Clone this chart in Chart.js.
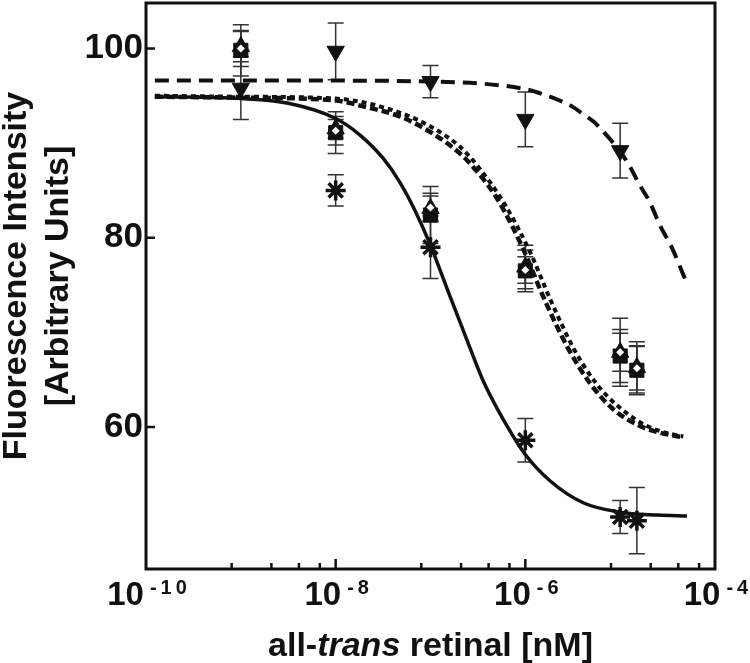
<!DOCTYPE html>
<html lang="en">
<head>
<meta charset="UTF-8">
<title>Fluorescence vs all-trans retinal</title>
<script src="https://cdn.jsdelivr.net/npm/chart.js@4.4.0/dist/chart.umd.min.js"></script>
<style>
  html, body { margin: 0; padding: 0; background: #fff; }
  #wrap { width: 750px; height: 663px; }
</style>
</head>
<body>
<div id="wrap"><canvas id="chart" width="750" height="663"></canvas></div>
<script>
  // concentrations of the measured points
  const conc = [1e-9, 1e-8, 1e-7, 1e-6, 1e-5, 1.5e-5];

  // measured points: mean and error
  const starVals   = [null, 85.0, 79.0, 58.6, 50.5, 50.1];
  const starErr    = [null, 1.65, 3.3, 2.3, 1.75, 3.5];
  const downVals   = [95.8, 99.7, 96.5, 92.5, 89.2, null];
  const downErr    = [3.3, 3.0, 1.7, 2.9, 2.9, null];
  const squareVals = [99.8, 91.1, 82.4, 76.5, 67.5, 66.0];
  const squareErr  = [2.7, 2.2, 3.0, 2.2, 2.8, 2.6];
  const upVals     = [100.2, 91.5, 83.1, 76.9, 67.9, 66.3];
  const upErr      = [1.6, 1.0, 1.3, 2.3, 3.6, 2.7];
  const holeVals   = [100.0, 91.3, 83.2, 76.6, 67.9, 66.2];
  const holeErr    = [1.9, 1.5, 1.5, 1.4, 2.0, 2.3];

  // fitted curves
  const solidX = [1.24e-10, 1e-9, 3.16e-9, 1e-8, 1.78e-8, 3.16e-8, 4.79e-8, 6.92e-8, 1e-7, 1.58e-7, 2.42e-7, 3.55e-7, 5.42e-7, 1e-6, 1.83e-6, 4.07e-6, 1e-5, 2.51e-5, 5.06e-5];
  const solidY = [94.9, 94.7, 94.2, 92.6, 90.9, 88.4, 85.8, 82.8, 79.2, 74.0, 69.2, 65.0, 61.4, 57.1, 54.3, 52.0, 51.0, 50.7, 50.6];
  const dashX = [1.24e-10, 1e-9, 1e-8, 1e-7, 3.3e-7, 1e-6, 1.5e-6, 2.3e-6, 3.2e-6, 4.0e-6, 5.2e-6, 6.95e-6, 1e-5, 1.27e-5, 1.6e-5, 2.07e-5, 2.6e-5, 3.53e-5, 4.85e-5];
  const dashY = [96.6, 96.6, 96.6, 96.5, 96.3, 95.7, 95.2, 94.5, 93.8, 93.1, 92.3, 91.0, 89.1, 87.5, 85.6, 83.7, 81.4, 78.9, 75.6];
  const dotAX = [1.24e-10, 1e-9, 1e-8, 2.1e-8, 4.8e-8, 1.06e-7, 2.05e-7, 2.8e-7, 5.0e-7, 9.5e-7, 1.54e-6, 2.76e-6, 4.83e-6, 8.4e-6, 1.62e-5, 2.64e-5, 4.63e-5];
  const dotAY = [94.9, 94.8, 94.5, 93.8, 92.8, 91.0, 88.9, 87.5, 84.2, 78.8, 73.8, 68.5, 64.6, 61.9, 60.1, 59.4, 58.9];
  const dotBX = [1.24e-10, 1e-9, 1e-8, 4.8e-8, 1.06e-7, 2.05e-7, 3.3e-7, 6.0e-7, 1.12e-6, 1.83e-6, 3.27e-6, 5.7e-6, 1e-5, 1.84e-5, 3.0e-5, 4.63e-5];
  const dotBY = [95.0, 94.9, 94.7, 93.2, 91.6, 89.6, 87.3, 83.6, 78.5, 73.5, 68.2, 64.5, 62.0, 60.2, 59.4, 59.0];

  // axes
  const yTicks = [60, 80, 100];
  const xLabelExp = [-10, -8, -6, -4];
  const xMajorTicks = [1e-8, 1e-6];
  const xMinorTicks = [8e-10, 2.1e-9, 4.1e-9, 6.8e-9, 8e-8, 2.1e-7, 4.1e-7, 6.8e-7, 8e-6, 2.1e-5, 4.1e-5, 6.8e-5];

  const FONT = "'Liberation Sans', Arial, sans-serif";
  const INK = '#111';

  const pts = (xs, ys) => xs.map((x, i) => ({ x: x, y: ys[i] })).filter(p => p.y !== null);

  const errorSets = [
    [starVals, starErr], [downVals, downErr], [squareVals, squareErr],
    [upVals, upErr], [holeVals, holeErr]
  ];

  const decor = {
    id: 'decor',
    beforeDatasetsDraw(chart) {
      const { ctx, scales: { x, y } } = chart;
      ctx.save();
      ctx.strokeStyle = '#333';
      ctx.lineWidth = 1.5;
      errorSets.forEach(([vals, errs]) => {
        vals.forEach((v, i) => {
          if (v === null) return;
          const px = x.getPixelForValue(conc[i]);
          const top = y.getPixelForValue(v + errs[i]);
          const bot = y.getPixelForValue(v - errs[i]);
          ctx.beginPath();
          ctx.moveTo(px, top); ctx.lineTo(px, bot);
          ctx.moveTo(px - 8, top); ctx.lineTo(px + 8, top);
          ctx.moveTo(px - 8, bot); ctx.lineTo(px + 8, bot);
          ctx.stroke();
        });
      });
      ctx.restore();
    },
    afterDraw(chart) {
      const { ctx, chartArea: a, scales: { x, y } } = chart;
      ctx.save();
      // frame
      ctx.strokeStyle = INK;
      ctx.lineWidth = 3;
      ctx.strokeRect(a.left, a.top, a.right - a.left, a.bottom - a.top);

      // ticks, pointing inward
      ctx.lineWidth = 2.5;
      ctx.beginPath();
      yTicks.forEach(v => {
        const py = y.getPixelForValue(v);
        ctx.moveTo(a.left, py); ctx.lineTo(a.left + 9, py);
      });
      xMajorTicks.forEach(v => {
        const px = x.getPixelForValue(v);
        ctx.moveTo(px, a.bottom); ctx.lineTo(px, a.bottom - 10);
      });
      xMinorTicks.forEach(v => {
        const px = x.getPixelForValue(v);
        ctx.moveTo(px, a.bottom); ctx.lineTo(px, a.bottom - 6);
      });
      ctx.stroke();

      // x tick labels, 10 with superscript exponent
      ctx.fillStyle = INK;
      ctx.textBaseline = 'alphabetic';
      ctx.textAlign = 'left';
      xLabelExp.forEach(e => {
        const px = x.getPixelForValue(Math.pow(10, e));
        const base = '10';
        const sup = '-' + Math.abs(e);
        ctx.font = 'bold 33px ' + FONT;
        ctx.letterSpacing = '0px';
        const wb = ctx.measureText(base).width;
        ctx.font = 'bold 20px ' + FONT;
        ctx.letterSpacing = '4px';
        const ws = ctx.measureText(sup).width;
        const left = px + 3 - (wb + 6 + ws) / 2;
        ctx.font = 'bold 33px ' + FONT;
        ctx.letterSpacing = '0px';
        ctx.fillText(base, left, 605);
        ctx.font = 'bold 20px ' + FONT;
        ctx.letterSpacing = '4px';
        ctx.fillText(sup, left + wb + 6, 594);
      });
      ctx.letterSpacing = '0px';

      // x title with italic "trans"
      const parts = [['all-', 'bold'], ['trans', 'italic bold'], [' retinal [nM]', 'bold']];
      let total = 0;
      parts.forEach(p => { ctx.font = p[1] + ' 34px ' + FONT; total += ctx.measureText(p[0]).width; });
      let cx = (a.left + a.right) / 2 - total / 2;
      parts.forEach(p => {
        ctx.font = p[1] + ' 34px ' + FONT;
        ctx.fillText(p[0], cx, 656);
        cx += ctx.measureText(p[0]).width;
      });

      // y title, two lines rotated
      ctx.translate(0, 276);
      ctx.rotate(-Math.PI / 2);
      ctx.textAlign = 'center';
      ctx.font = 'bold 34px ' + FONT;
      ctx.fillText('Fluorescence Intensity', 0, 26);
      ctx.fillText('[Arbitrary Units]', 0, 68);
      ctx.restore();
    }
  };

  const curve = (xs, ys, dash, width) => ({
    data: pts(xs, ys), showLine: true, pointRadius: 0, borderColor: INK,
    borderWidth: width, borderDash: dash, cubicInterpolationMode: 'monotone',
    fill: false, order: 10
  });

  const noPad = s => { s.paddingTop = 0; s.paddingBottom = 0; s.paddingLeft = 0; s.paddingRight = 0; };

  new Chart(document.getElementById('chart'), {
    type: 'scatter',
    data: {
      datasets: [
        curve(solidX, solidY, [], 3.5),
        curve(dashX, dashY, [14, 8], 4),
        curve(dotAX, dotAY, [8, 4], 4.5),
        curve(dotBX, dotBY, [5, 4], 4),
        { data: pts(conc, starVals), showLine: false, pointStyle: 'star', pointRadius: 10,
          pointBorderColor: INK, pointBorderWidth: 3.5, order: 5 },
        { data: pts(conc, downVals), showLine: false, pointStyle: 'triangle', pointRotation: 180,
          pointRadius: 10, pointBackgroundColor: INK, pointBorderColor: INK, pointBorderWidth: 1, order: 4 },
        { data: pts(conc, squareVals), showLine: false, pointStyle: 'rect', pointRadius: 10,
          pointBackgroundColor: INK, pointBorderColor: INK, pointBorderWidth: 1, order: 3 },
        { data: pts(conc, upVals), showLine: false, pointStyle: 'triangle', pointRadius: 10,
          pointBackgroundColor: INK, pointBorderColor: INK, pointBorderWidth: 1, order: 2 },
        { data: pts(conc, holeVals), showLine: false, pointStyle: 'rectRot', pointRadius: 4,
          pointBackgroundColor: '#fff', pointBorderColor: '#fff', pointBorderWidth: 0, order: 1 }
      ]
    },
    options: {
      responsive: false,
      animation: false,
      devicePixelRatio: 1,
      layout: { autoPadding: false, padding: { top: 3, right: 35, left: 0, bottom: 0 } },
      plugins: { legend: { display: false }, tooltip: { enabled: false } },
      scales: {
        x: {
          type: 'logarithmic', min: 1e-10, max: 1e-4,
          grid: { display: false, drawTicks: false }, border: { display: false },
          ticks: { display: false },
          afterFit(s) { s.height = 94; noPad(s); }
        },
        y: {
          min: 45, max: 104.8,
          grid: { display: false, drawTicks: false }, border: { display: false },
          afterBuildTicks(s) { s.ticks = yTicks.map(v => ({ value: v })); },
          ticks: { font: { family: FONT, size: 35, weight: 'bold' }, color: INK, padding: 3 },
          afterFit(s) { s.width = 146; noPad(s); }
        }
      }
    },
    plugins: [decor]
  });
</script>
</body>
</html>
